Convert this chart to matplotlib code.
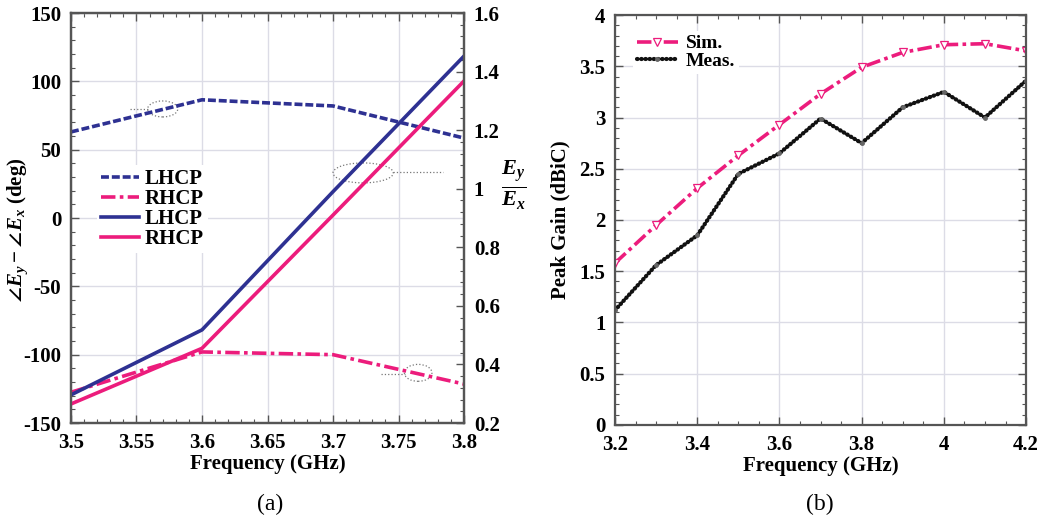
import numpy as np
import matplotlib
matplotlib.use('Agg')
import matplotlib.pyplot as plt
from matplotlib.patches import Ellipse
from matplotlib.ticker import MultipleLocator

plt.rcParams['font.family'] = ['Liberation Serif', 'DejaVu Serif']
plt.rcParams['font.weight'] = 'bold'
plt.rcParams['axes.labelweight'] = 'bold'
plt.rcParams['axes.unicode_minus'] = False
plt.rcParams['mathtext.fontset'] = 'custom'
plt.rcParams['mathtext.rm'] = 'Liberation Serif:bold'
plt.rcParams['mathtext.it'] = 'Liberation Serif:italic:bold'
plt.rcParams['mathtext.bf'] = 'Liberation Serif:bold'
plt.rcParams['mathtext.fallback'] = 'stix'

# (a) axial-ratio phase / amplitude data
freq_a = [3.5, 3.6, 3.7, 3.8]
phase_lhcp = [63, 86.5, 82, 58.5]
phase_rhcp = [-127.5, -98, -100, -121.5]
ratio_lhcp = [0.296, 0.518, 0.99, 1.453]
ratio_rhcp = [0.265, 0.455, 0.91, 1.368]

# (b) peak gain
freq_b = [3.2, 3.3, 3.4, 3.5, 3.6, 3.7, 3.8, 3.9, 4.0, 4.1, 4.2]
gain_sim = [1.58, 1.95, 2.31, 2.63, 2.93, 3.23, 3.49, 3.635, 3.71, 3.72, 3.65]
gain_meas = [1.12, 1.56, 1.85, 2.45, 2.65, 2.99, 2.75, 3.10, 3.25, 3.00, 3.36]

BLUE = '#2e3192'
PINK = '#ec1c7c'
GRID = '#dcdce6'
SPINE = '#555555'
TICK_FS = 15


def style_axes(ax):
    for s in ax.spines.values():
        s.set_color(SPINE)
        s.set_linewidth(1.6)
    ax.tick_params(which='both', direction='in', colors=SPINE, labelcolor='black',
                   labelsize=TICK_FS, top=True)
    ax.tick_params(which='major', length=6, width=1)
    ax.tick_params(which='minor', length=3, width=0.8)
    ax.tick_params(axis='x', pad=7)
    ax.tick_params(axis='y', pad=7)
    for lab in ax.get_xticklabels() + ax.get_yticklabels():
        lab.set_fontweight('bold')


fig = plt.figure(figsize=(10.47, 5.23), dpi=100)

# ---------- panel (a) ----------
ax = fig.add_axes([0.0678, 0.1912, 0.3754, 0.7839])
ax2 = ax.twinx()

ax.grid(True, color=GRID, lw=1)
ax.set_axisbelow(True)
l1, = ax.plot(freq_a, phase_lhcp, color=BLUE, lw=2.6, dashes=(2.2, 0.8), label='LHCP')
l2, = ax.plot(freq_a, phase_rhcp, color=PINK, lw=2.6, dashes=(4, 1.2, 1, 1.2), label='RHCP')
l3, = ax2.plot(freq_a, ratio_lhcp, color=BLUE, lw=2.6, label='LHCP')
l4, = ax2.plot(freq_a, ratio_rhcp, color=PINK, lw=2.6, label='RHCP')

ax.set_xlim(3.5, 3.8)
ax.set_ylim(-150, 150)
ax2.set_ylim(0.2, 1.6)
ax.xaxis.set_major_locator(MultipleLocator(0.05))
ax.xaxis.set_minor_locator(MultipleLocator(0.01))
ax.yaxis.set_major_locator(MultipleLocator(50))
ax.yaxis.set_minor_locator(MultipleLocator(10))
ax2.yaxis.set_major_locator(MultipleLocator(0.2))
ax2.yaxis.set_minor_locator(MultipleLocator(0.04))
ax.set_xticks([3.5, 3.55, 3.6, 3.65, 3.7, 3.75, 3.8])
ax.set_xticklabels(['3.5', '3.55', '3.6', '3.65', '3.7', '3.75', '3.8'])
ax2.set_yticks([0.2, 0.4, 0.6, 0.8, 1.0, 1.2, 1.4, 1.6])
ax2.set_yticklabels(['0.2', '0.4', '0.6', '0.8', '1', '1.2', '1.4', '1.6'])
style_axes(ax)
style_axes(ax2)
ax.tick_params(which='both', right=False)

ax.set_xlabel('Frequency (GHz)', fontsize=15, fontweight='bold', labelpad=1)
ax.set_ylabel(r'$\angle E_y - \angle E_x$ (deg)', fontsize=15, fontweight='bold')
ax.yaxis.set_label_coords(-0.105, 0.47)
ax2.set_ylabel(r'$\frac{E_y}{E_x}$', fontsize=23, rotation=0, va='center', ha='center')
ax2.yaxis.set_label_coords(1.127, 0.58)

# dotted annotation ellipses with leaders
ann = [((3.570, 79.8), 0.023, 11.7, (3.545, 3.559), 80),
       ((3.723, 33.0), 0.046, 14.6, (3.746, 3.784), 34),
       ((3.765, -113.3), 0.021, 12.4, (3.737, 3.755), -114)]
for (cx, cy), w, h, (x0, x1), yl in ann:
    ax.add_patch(Ellipse((cx, cy), w, h, fill=False, ls=':', lw=0.9, color='#777777'))
    ax.plot([x0, x1], [yl, yl], ls=':', lw=0.9, color='#777777')

leg = ax2.legend([l1, l2, l3, l4], ['LHCP', 'RHCP', 'LHCP', 'RHCP'],
                 loc='upper left', bbox_to_anchor=(0.04, 0.655), fontsize=15,
                 labelspacing=0.0, handlelength=1.8, handletextpad=0.3,
                 borderpad=0.2, frameon=True, fancybox=False)
leg.get_frame().set_edgecolor('none')
leg.get_frame().set_facecolor('white')
leg.get_frame().set_alpha(1)

fig.text(0.258, 0.036, '(a)', ha='center', va='center', fontsize=17, fontweight='normal')

# ---------- panel (b) ----------
bx = fig.add_axes([0.5874, 0.1874, 0.3926, 0.7839])
bx.grid(True, color=GRID, lw=1)
bx.set_axisbelow(True)
bx.plot(freq_b, gain_sim, color=PINK, lw=2.6, dashes=(4, 1.2, 1, 1.2),
        marker='v', ms=6, mfc='white', mec=PINK, mew=0.9, label='Sim.')
bx.plot(freq_b, gain_meas, color='#111111', lw=3.0, ls=(0, (0.15, 0.85)),
        dash_capstyle='round', marker='o', ms=2.5, mfc='#666666', mec='#666666',
        label='Meas.')
bx.set_xlim(3.2, 4.2)
bx.set_ylim(0, 4)
bx.xaxis.set_major_locator(MultipleLocator(0.2))
bx.xaxis.set_minor_locator(MultipleLocator(0.05))
bx.yaxis.set_major_locator(MultipleLocator(0.5))
bx.yaxis.set_minor_locator(MultipleLocator(0.1))
bx.set_xticks([3.2, 3.4, 3.6, 3.8, 4.0, 4.2])
bx.set_xticklabels(['3.2', '3.4', '3.6', '3.8', '4', '4.2'])
bx.set_yticks([0, 0.5, 1, 1.5, 2, 2.5, 3, 3.5, 4])
bx.set_yticklabels(['0', '0.5', '1', '1.5', '2', '2.5', '3', '3.5', '4'])
style_axes(bx)
bx.tick_params(which='both', right=True)
bx.set_xlabel('Frequency (GHz)', fontsize=15, fontweight='bold', labelpad=1)
bx.set_ylabel('Peak Gain (dBiC)', fontsize=15, fontweight='bold', labelpad=6)

leg2 = bx.legend(loc='upper left', bbox_to_anchor=(0.02, 0.985), fontsize=14,
                 labelspacing=0.0, handlelength=2.1, handletextpad=0.4,
                 borderpad=0.2, frameon=True, fancybox=False)
leg2.get_frame().set_edgecolor('none')
leg2.get_frame().set_facecolor('white')
leg2.get_frame().set_alpha(1)

fig.text(0.783, 0.036, '(b)', ha='center', va='center', fontsize=17, fontweight='normal')

fig.savefig('out.png', dpi=100)
